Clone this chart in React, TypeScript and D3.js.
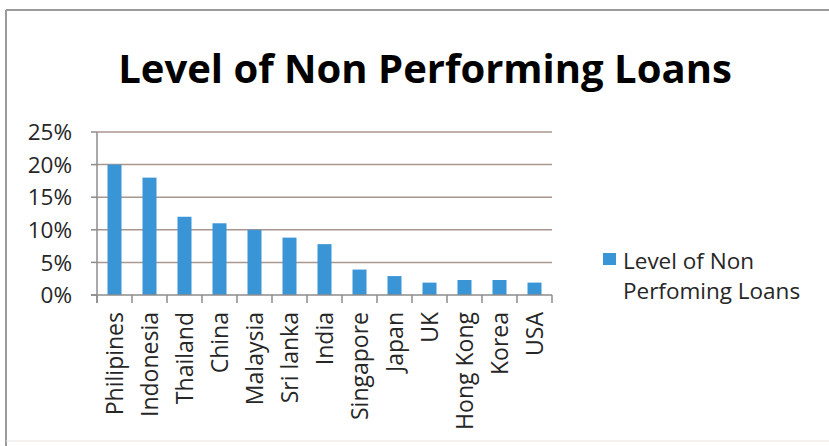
import React from "react";
import * as d3 from "d3";

// Non-performing loans as a share of total loans, by country
const countries = [
  "Philipines",
  "Indonesia",
  "Thailand",
  "China",
  "Malaysia",
  "Sri lanka",
  "India",
  "Singapore",
  "Japan",
  "UK",
  "Hong Kong",
  "Korea",
  "USA",
];
const nplShare = [20, 18, 12, 11, 10, 8.8, 7.8, 3.9, 2.9, 1.9, 2.3, 2.3, 1.9];
const yTicks = [0, 5, 10, 15, 20, 25];

const titleText = "Level of Non Performing Loans";
const legendLines = ["Level of Non", "Perfoming Loans"];

const W = 829;
const H = 446;
const plot = { left: 97, right: 552, top: 132, bottom: 295 };

const BAR = "#3995d6";
const GRID = "#a8968f";
const AXIS = "#8c8c8c";
const TEXT = "#262626";
const FONT = "'Open Sans', 'Noto Sans', sans-serif";

export default function App() {
  // one band per country, no padding: ticks sit on band edges
  const x = d3.scaleBand<string>().domain(countries).range([plot.left, plot.right]).padding(0);
  const y = d3.scaleLinear().domain([0, 25]).range([plot.bottom, plot.top]);
  const bw = x.bandwidth();
  const barW = bw * 0.4;
  const center = (c: string) => (x(c) ?? 0) + bw / 2;
  const boundaries = [...countries.map((c) => x(c) ?? 0), plot.right];

  return (
    <svg
      width={W}
      height={H}
      viewBox={`0 0 ${W} ${H}`}
      style={{ position: "absolute", left: 0, top: 0, background: "#fff" }}
    >
      {/* frame */}
      <line x1={6} y1={10} x2={W} y2={10} stroke="#9a9a9a" strokeWidth={2} />
      <line x1={6} y1={10} x2={6} y2={H} stroke="#9a9a9a" strokeWidth={2} />
      <line x1={6} y1={441} x2={W} y2={441} stroke="#eee4e4" strokeWidth={1} />

      {/* title */}
      <text
        x={425}
        y={83}
        textAnchor="middle"
        fontFamily={FONT}
        fontWeight={700}
        fontSize={40}
        fill="#000"
      >
        {titleText}
      </text>

      {/* gridlines */}
      {yTicks
        .filter((t) => t > 0)
        .map((t) => (
          <line
            key={`g${t}`}
            x1={plot.left}
            x2={plot.right}
            y1={y(t)}
            y2={y(t)}
            stroke={GRID}
            strokeWidth={1.5}
          />
        ))}

      {/* bars */}
      {countries.map((c, i) => (
        <rect
          key={c}
          x={center(c) - barW / 2}
          y={y(nplShare[i])}
          width={barW}
          height={y(0) - y(nplShare[i])}
          fill={BAR}
        />
      ))}

      {/* axes */}
      <line x1={plot.left} x2={plot.left} y1={plot.top} y2={plot.bottom + 8} stroke={AXIS} strokeWidth={1.5} />
      <line x1={plot.left - 6} x2={plot.right} y1={plot.bottom} y2={plot.bottom} stroke={AXIS} strokeWidth={1.5} />
      {yTicks.map((t) => (
        <line key={`yt${t}`} x1={plot.left - 6} x2={plot.left} y1={y(t)} y2={y(t)} stroke={AXIS} strokeWidth={1.5} />
      ))}
      {boundaries.map((bx, i) => (
        <line key={`xt${i}`} x1={bx} x2={bx} y1={plot.bottom} y2={plot.bottom + 8} stroke={AXIS} strokeWidth={1.5} />
      ))}

      {/* y tick labels */}
      {yTicks.map((t) => (
        <text
          key={`yl${t}`}
          x={72}
          y={y(t)}
          dy="0.36em"
          textAnchor="end"
          fontFamily={FONT}
          fontSize={22.5}
          fill={TEXT}
        >
          {`${t}%`}
        </text>
      ))}

      {/* x tick labels */}
      {countries.map((c) => (
        <text
          key={`xl${c}`}
          transform={`translate(${center(c)},${plot.bottom + 17}) rotate(-90)`}
          dy="0.36em"
          textAnchor="end"
          fontFamily={FONT}
          fontSize={23}
          fill={TEXT}
        >
          {c}
        </text>
      ))}

      {/* legend */}
      <rect x={603} y={253} width={13} height={12} fill={BAR} />
      {legendLines.map((line, i) => (
        <text
          key={line}
          x={623}
          y={269 + i * 30}
          fontFamily={FONT}
          fontSize={22.5}
          fill={TEXT}
        >
          {line}
        </text>
      ))}
    </svg>
  );
}
